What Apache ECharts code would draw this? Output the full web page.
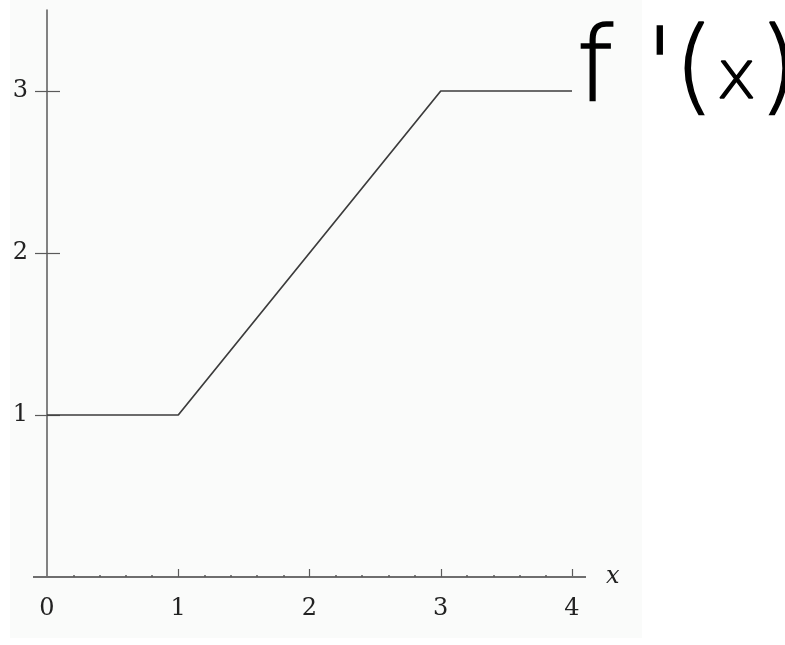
<!DOCTYPE html>
<html>
<head>
<meta charset="utf-8">
<script src="https://cdn.jsdelivr.net/npm/echarts@6/dist/echarts.min.js"></script>
<style>
	html, body { margin: 0; padding: 0; background: #ffffff; }
	#chart { width: 785px; height: 645px; }
</style>
</head>
<body>
<div id="chart"></div>
<script>
	// f'(x): piecewise linear derivative
	var xPoints = [0, 1, 3, 4];
	var yPoints = [1, 1, 3, 3];

	var xTickLabels = [0, 1, 2, 3, 4];
	var yTickLabels = [1, 2, 3];

	var chartColors = {
		graph: '#3c3c3c',
		axes: '#5a5a5a',
		labels: '#222222',
		plotBg: '#fafbfa'
	};

	var labelFont = 'DejaVu Serif';

	var lineData = [];
	for (var i = 0; i < xPoints.length; i++) {
		lineData.push([xPoints[i], yPoints[i]]);
	}

	var chart = echarts.init(document.getElementById('chart'));

	var handStyle = {
		fontFamily: 'DejaVu Sans',
		fontWeight: 'lighter',
		fill: '#000000',
		stroke: '#000000',
		lineWidth: 1.5
	};

	chart.setOption({
		backgroundColor: '#ffffff',
		animation: false,
		grid: {
			left: 47,
			right: 213,
			top: 10,
			bottom: 68,
			containLabel: false
		},
		graphic: [
			{
				type: 'rect',
				z: -10,
				shape: { x: 10, y: 0, width: 632, height: 638 },
				style: { fill: chartColors.plotBg }
			},
			{
				type: 'text',
				left: 576,
				top: 22,
				style: {
					text: "{a|f '(}{b|x}{a|)}",
					fontFamily: 'DejaVu Sans',
					fontSize: 103,
					rich: {
						a: echarts.util.extend({ fontSize: 103 }, handStyle),
						b: echarts.util.extend({ fontSize: 68, padding: [12, 2, 0, 2] }, handStyle)
					}
				}
			}
		],
		xAxis: {
			type: 'value',
			min: 0,
			max: 4,
			interval: 1,
			name: 'x',
			nameLocation: 'end',
			nameGap: 34,
			nameTextStyle: {
				fontFamily: labelFont,
				fontStyle: 'italic',
				fontSize: 24,
				color: chartColors.labels,
				verticalAlign: 'middle'
			},
			axisLine: {
				onZero: false,
				symbol: ['rect', 'rect'],
				symbolSize: [2, 28],
				lineStyle: { color: '#6e6e6e', width: 2 }
			},
			axisTick: {
				show: true,
				inside: true,
				length: 8,
				customValues: [1, 2, 3, 4],
				lineStyle: { color: chartColors.axes, width: 1.2 }
			},
			minorTick: {
				show: true,
				splitNumber: 5,
				length: 2,
				lineStyle: { color: chartColors.axes, width: 1.5 }
			},
			axisLabel: {
				customValues: xTickLabels,
				margin: 20,
				fontFamily: labelFont,
				fontSize: 24,
				color: chartColors.labels
			},
			splitLine: { show: false }
		},
		yAxis: [
			{
				type: 'value',
				min: 0,
				max: 3.5,
				interval: 1,
				axisLine: {
					show: true,
					onZero: false,
					lineStyle: { color: chartColors.axes, width: 1.5 }
				},
				axisTick: {
					show: true,
					inside: false,
					length: 12,
					customValues: yTickLabels,
					lineStyle: { color: chartColors.axes, width: 1.2 }
				},
				axisLabel: {
					customValues: yTickLabels,
					margin: 19,
					fontFamily: labelFont,
					fontSize: 24,
					color: chartColors.labels
				},
				splitLine: { show: false }
			},
			{
				type: 'value',
				position: 'left',
				min: 0,
				max: 3.5,
				interval: 1,
				axisLine: { show: false, onZero: false },
				axisTick: {
					show: true,
					inside: true,
					length: 13,
					customValues: yTickLabels,
					lineStyle: { color: chartColors.axes, width: 1.2 }
				},
				axisLabel: { show: false },
				splitLine: { show: false }
			}
		],
		series: [
			{
				type: 'line',
				data: lineData,
				showSymbol: false,
				lineStyle: { color: chartColors.graph, width: 1.7 }
			}
		]
	});
</script>
</body>
</html>
